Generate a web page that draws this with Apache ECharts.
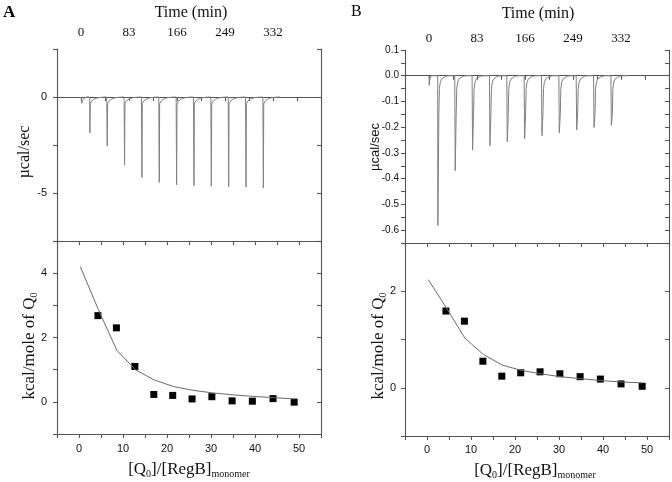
<!DOCTYPE html>
<html><head><meta charset="utf-8">
<script src="https://cdn.jsdelivr.net/npm/echarts@6/dist/echarts.min.js"></script>
<style>html,body{margin:0;padding:0;background:#fff}#c{width:672px;height:482px}</style>
</head><body><div id="c"></div>
<script>
// ---- Raw ITC thermogram data (top panels) ----
const traceEnd = 345;                       // min
const injTimes = [15, 45, 75, 105, 135, 165, 195, 225, 255, 285, 315]; // min
// Panel A (µcal/sec)
const preA = [[0, 0], [1, 0], [1.4, -0.33], [2.5, -0.15], [5, -0.05], [9, 0]];
const depthA = [-1.87, -2.56, -3.55, -4.19, -4.45, -4.57, -4.62, -4.65, -4.67, -4.69, -4.74];
const tailA = [[1, -0.35], [2, -0.28], [4, -0.19], [7.5, -0.12], [11, -0.07], [16, -0.03], [22, -0.01], [29.5, 0]];
// Panel B (µcal/sec)
const preB = [[0, 0], [0.4, -0.037], [1.5, -0.01], [4, 0]];
const depthB = [-0.582, -0.369, -0.289, -0.272, -0.257, -0.245, -0.233, -0.222, -0.211, -0.201, -0.193];
const tailB = [[2, -0.15], [3, -0.05], [4.5, -0.025], [7, -0.012], [10, -0.006], [14, -0.002], [20, 0], [29.5, 0]];

// ---- Integrated heats (bottom panels) ----
const ratioX = [4.3, 8.5, 12.7, 17.0, 21.3, 25.7, 30.2, 34.8, 39.4, 44.1, 48.9];
const heatA = [2.68, 2.30, 1.10, 0.23, 0.20, 0.09, 0.16, 0.03, 0.02, 0.10, -0.01];
const heatB = [1.59, 1.38, 0.55, 0.24, 0.31, 0.33, 0.29, 0.23, 0.18, 0.08, 0.03];
const fitX = [0.3, 4.3, 8.6, 12.8, 17.1, 21.4, 25.8, 30.2, 34.8, 39.4, 44.2, 49.0];
const fitA = [4.2, 2.9, 1.6, 1.0, 0.68, 0.48, 0.36, 0.28, 0.22, 0.17, 0.13, 0.09];
const fitB = [2.24, 1.67, 1.03, 0.69, 0.47, 0.36, 0.29, 0.23, 0.19, 0.15, 0.12, 0.10];

// ---- Tick labels ----
const timeLabels = [0, 83, 166, 249, 332];
const ratioLabels = [0, 10, 20, 30, 40, 50];
const rawALabels = [0, -5];
const heatALabels = [0, 2, 4];
const rawBLabels = ['0.1', '0.0', '-0.1', '-0.2', '-0.3', '-0.4', '-0.5', '-0.6'];
const heatBLabels = [0, 2];

function buildTrace(pre, depths, tail) {
  const pts = pre.map(p => p.slice());
  injTimes.forEach((t0, i) => {
    pts.push([t0, 0]);
    pts.push([t0 + 0.35, depths[i]]);
    tail.forEach(([dt, v]) => pts.push([t0 + dt, v]));
  });
  pts.push([traceEnd, 0]);
  return pts;
}
const zip = (xs, ys) => xs.map((x, i) => [x, ys[i]]);

const FRAME = '#555';
const SANS = 'Liberation Sans';
const SERIF = 'Liberation Serif';
const lineStyle = { color: FRAME, width: 1.1 };

function timeAxis(grid, margin) {
  return {
    gridIndex: grid, type: 'value', position: 'top', min: -41.5, max: 415, interval: 41.5,
    axisLine: { show: true, lineStyle }, splitLine: { show: false },
    axisTick: { show: true, inside: true, length: 4, lineStyle },
    axisLabel: {
      show: true, margin: margin, fontFamily: SERIF, fontSize: 13, color: '#111',
      formatter: v => timeLabels.indexOf(Math.round(v * 10) / 10) >= 0 ? String(Math.round(v)) : ''
    }
  };
}
function ratioAxis(grid, margin) {
  return {
    gridIndex: grid, type: 'value', position: 'bottom', min: -5, max: 55, interval: 5,
    axisLine: { show: true, onZero: false, lineStyle }, splitLine: { show: false },
    axisTick: { show: true, inside: false, length: 4, lineStyle },
    axisLabel: {
      show: true, margin: margin, fontFamily: SANS, fontSize: 11, color: '#111',
      formatter: v => ratioLabels.indexOf(Math.round(v)) >= 0 && Math.abs(v - Math.round(v)) < 1e-6 ? String(Math.round(v)) : ''
    }
  };
}
function mirrorX(grid) {
  return {
    gridIndex: grid, type: 'value', position: 'top', min: -5, max: 55, interval: 5,
    axisLine: { show: true, onZero: false, lineStyle }, splitLine: { show: false },
    axisTick: { show: true, inside: true, length: 4, lineStyle }, axisLabel: { show: false }
  };
}
function leftY(grid, min, max, interval, fmt, margin, fs) {
  return {
    gridIndex: grid, type: 'value', position: 'left', min, max, interval,
    axisLine: { show: true, onZero: false, lineStyle }, splitLine: { show: false },
    axisTick: { show: true, inside: false, length: 4, lineStyle },
    axisLabel: { show: true, margin: margin, fontFamily: SANS, fontSize: fs, color: '#111', formatter: fmt }
  };
}
function rightY(grid, min, max, interval) {
  return {
    gridIndex: grid, type: 'value', position: 'right', min, max, interval,
    axisLine: { show: true, onZero: false, lineStyle }, splitLine: { show: false },
    axisTick: { show: true, inside: true, length: 4, lineStyle }, axisLabel: { show: false }
  };
}

const fmtRawA = v => rawALabels.indexOf(Math.round(v * 10) / 10) >= 0 ? String(v) : '';
const fmtHeatA = v => heatALabels.indexOf(Math.round(v)) >= 0 && Math.abs(v - Math.round(v)) < 1e-6 ? String(Math.round(v)) : '';
const fmtRawB = v => { const k = Math.round(v * 100);
  if (k % 10 !== 0) return ''; const t = (k / 100).toFixed(1); const lbl = (t === '-0.0') ? '0.0' : t;
  return rawBLabels.indexOf(lbl) >= 0 ? lbl : ''; };
const fmtHeatB = v => heatBLabels.indexOf(Math.round(v)) >= 0 && Math.abs(v - Math.round(v)) < 1e-6 ? String(Math.round(v)) : '';

const chart = echarts.init(document.getElementById('c'), null, { renderer: 'canvas' });
const sub = { fontFamily: SERIF, fontSize: 10, fill: '#111', lineHeight: 20, verticalAlign: 'bottom', padding: [0, 0, 1, 0] };
const big = { fontFamily: SERIF, fontSize: 17, fill: '#111', lineHeight: 20, verticalAlign: 'middle' };
const option = {
  animation: false,
  backgroundColor: '#fff',
  grid: [
    { left: 57, top: 49, width: 264, height: 192 },
    { left: 57, top: 241, width: 264, height: 193 },
    { left: 405, top: 50, width: 265, height: 193 },
    { left: 405, top: 243, width: 265, height: 193 }
  ],
  xAxis: [
    timeAxis(0, 10),
    ratioAxis(1, 9),
    mirrorX(1),
    timeAxis(2, 5),
    ratioAxis(3, 8),
    mirrorX(3)
  ],
  yAxis: [
    leftY(0, -7.5, 2.5, 2.5, fmtRawA, 10, 11),
    rightY(0, -7.5, 2.5, 2.5),
    leftY(1, -1, 5, 1, fmtHeatA, 10, 11),
    rightY(1, -1, 5, 1),
    leftY(2, -0.65, 0.1, 0.05, fmtRawB, 6, 10),
    rightY(2, -0.65, 0.1, 0.05),
    leftY(3, -1, 3, 1, fmtHeatB, 9, 11),
    rightY(3, -1, 3, 1)
  ],
  series: [
    { type: 'line', xAxisIndex: 0, yAxisIndex: 0, data: buildTrace(preA, depthA, tailA), showSymbol: false,
      lineStyle: { color: '#808080', width: 1 }, silent: true },
    { type: 'line', xAxisIndex: 1, yAxisIndex: 2, data: zip(fitX, fitA), showSymbol: false,
      lineStyle: { color: '#6a6a6a', width: 1 }, silent: true },
    { type: 'scatter', xAxisIndex: 1, yAxisIndex: 2, data: zip(ratioX, heatA), symbol: 'rect', symbolSize: 7,
      itemStyle: { color: '#000', opacity: 1 } },
    { type: 'line', xAxisIndex: 3, yAxisIndex: 4, data: buildTrace(preB, depthB, tailB), showSymbol: false,
      lineStyle: { color: '#808080', width: 1 }, silent: true },
    { type: 'line', xAxisIndex: 4, yAxisIndex: 6, data: zip(fitX, fitB), showSymbol: false,
      lineStyle: { color: '#6a6a6a', width: 1 }, silent: true },
    { type: 'scatter', xAxisIndex: 4, yAxisIndex: 6, data: zip(ratioX, heatB), symbol: 'rect', symbolSize: 7,
      itemStyle: { color: '#000', opacity: 1 } }
  ],
  graphic: [
    { type: 'text', x: 3, y: 4, style: { text: 'A', fontFamily: SERIF, fontSize: 17, fontWeight: 'bold', fill: '#000' } },
    { type: 'text', x: 351, y: 4, style: { text: 'B', fontFamily: SERIF, fontSize: 16, fill: '#000' } },
    { type: 'text', x: 191, y: 13, style: { text: 'Time (min)', fontFamily: SERIF, fontSize: 16, fill: '#111', align: 'center', verticalAlign: 'middle' } },
    { type: 'text', x: 538, y: 14, style: { text: 'Time (min)', fontFamily: SERIF, fontSize: 16, fill: '#111', align: 'center', verticalAlign: 'middle' } },
    { type: 'text', x: 25, y: 152, rotation: Math.PI / 2, style: { text: 'µcal/sec', fontFamily: SERIF, fontSize: 16, fill: '#111', align: 'center', verticalAlign: 'middle' } },
    { type: 'text', x: 375, y: 147, rotation: Math.PI / 2, style: { text: 'µcal/sec', fontFamily: SANS, fontSize: 13, fill: '#111', align: 'center', verticalAlign: 'middle' } },
    { type: 'text', x: 30, y: 346, rotation: Math.PI / 2, style: {
      text: '{a|kcal/mole of Q}{s|0}', align: 'center', verticalAlign: 'middle', rich: { a: big, s: sub } } },
    { type: 'text', x: 379, y: 346, rotation: Math.PI / 2, style: {
      text: '{a|kcal/mole of Q}{s|0}', align: 'center', verticalAlign: 'middle', rich: { a: big, s: sub } } },
    { type: 'text', x: 189, y: 470, style: {
      text: '{a|[Q}{s|0}{a|]/[RegB]}{s|monomer}', align: 'center', verticalAlign: 'middle', rich: { a: big, s: sub } } },
    { type: 'text', x: 535, y: 471, style: {
      text: '{a|[Q}{s|0}{a|]/[RegB]}{s|monomer}', align: 'center', verticalAlign: 'middle', rich: { a: big, s: sub } } }
  ]
};
chart.setOption(option);
</script>
</body></html>
